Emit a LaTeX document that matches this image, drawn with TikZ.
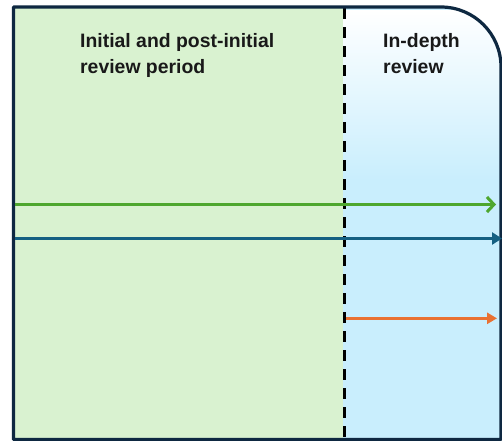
\documentclass[tikz,border=0pt]{standalone}
\usepackage{fontspec}
\newfontfamily\labelfont{Liberation Sans}
\usetikzlibrary{arrows.meta}
\definecolor{framecol}{HTML}{0E2841}
\definecolor{phasegreen}{HTML}{D9F2D0}
\definecolor{phaseblue}{HTML}{C9EEFD}
\definecolor{arrowgreen}{HTML}{4EA72E}
\definecolor{arrowblue}{HTML}{156082}
\definecolor{arroworange}{HTML}{E97132}

\begin{document}
\begin{tikzpicture}[x=1pt,y=-1pt,
  flow/.style={line width=3.3pt},
  phaselabel/.style={anchor=north west, inner sep=0pt, align=left,
    font=\labelfont\bfseries\fontsize{19.4}{26}\selectfont, text=black!90}]
\useasboundingbox (0,0) rectangle (502,440);
\clip (0,0) rectangle (502,440);

% corner points of the outer frame
\coordinate (fTL) at (13.5,7);
\coordinate (fBL) at (13.5,439.5);
\coordinate (fBR) at (501,439.5);
\coordinate (cStart) at (441,7);
\coordinate (cEnd) at (501,67);

% initial and post-initial period
\fill[phasegreen] (13.5,7) rectangle (343,439.5);

% in-depth period, fading from white at the top
\begin{scope}
  \clip (343,7) -- (cStart) .. controls (474.1,7) and (501,33.9) .. (cEnd)
        -- (fBR) -- (343,439.5) -- cycle;
  \fill[phaseblue] (343,0) rectangle (502,440);
  \shade[top color=white, bottom color=phaseblue] (343,10) rectangle (502,180);
\end{scope}

% phase divider
\coordinate (dTop) at (344,8);
\coordinate (dBot) at (344,440);
\draw[line width=3pt, dash pattern=on 11pt off 8pt] (dTop) -- (dBot);

% outer frame with one rounded corner
\draw[framecol, line width=3.2pt, line join=round]
  (fBL) -- (fTL) -- (cStart) .. controls (474.1,7) and (501,33.9) .. (cEnd)
  -- (fBR) -- cycle;

% timelines
\coordinate (gS) at (15,204.5);
\coordinate (gE) at (496,204.5);
\coordinate (bS) at (15,238.5);
\coordinate (bE) at (502,238.5);
\coordinate (oS) at (346,318.3);
\coordinate (oE) at (497,318.3);
\draw[flow, arrowgreen, -{Straight Barb[length=7pt,width=15pt,line width=3pt]}] (gS) -- (gE);
\draw[flow, arrowblue, -{Triangle[length=10pt,width=12pt]}] (bS) -- (bE);
\draw[flow, arroworange, -{Triangle[length=10pt,width=11pt]}] (oS) -- (oE);

% phase titles
\node[phaselabel] (initial) at (80,33) {Initial and post-initial\\review period};
\node[phaselabel] (indepth) at (383,33) {In-depth\\review};
\end{tikzpicture}
\end{document}
